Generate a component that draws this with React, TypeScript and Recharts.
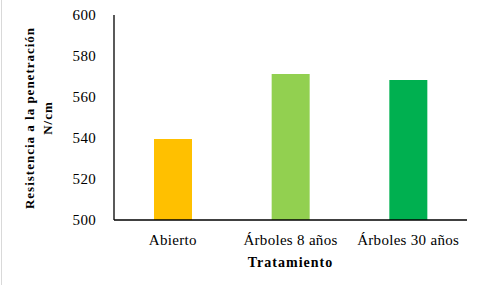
import { BarChart, Bar, XAxis, YAxis, Cell } from "recharts";

const categories = ["Abierto", "Árboles 8 años", "Árboles 30 años"];
const values = [539.5, 571.2, 568.3];
const colors = ["#FFC000", "#92D050", "#00B050"];
const yTicks = [500, 520, 540, 560, 580, 600];

const data = categories.map((c, i) => ({ name: c, value: values[i] }));

const FONT = "Liberation Serif, Times New Roman, serif";

// Two-line rotated y-axis title
function YTitle() {
  const cx = 38;
  const cy = 118;
  return (
    <text
      transform={`translate(${cx}, ${cy}) rotate(-90)`}
      textAnchor="middle"
      style={{ fontFamily: FONT, fontWeight: "bold", fontSize: 13, letterSpacing: 1 }}
      fill="#000"
    >
      <tspan x={0} dy={-4}>Resistencia a la penetración</tspan>
      <tspan x={0} dy={18}>N/cm</tspan>
    </text>
  );
}

const tickStyle = { fontFamily: FONT, letterSpacing: 0.3 };

export default function App() {
  return (
    <div
      style={{
        position: "absolute",
        left: 0,
        top: 0,
        width: 478,
        height: 286,
        background: "#fff",
        fontFamily: FONT,
      }}
    >
      <div style={{ position: "absolute", left: 1, top: 0, width: 1, height: 285, background: "#d9d9d9" }} />
      <BarChart
        width={478}
        height={286}
        data={data}
        style={{ fontFamily: FONT }}
        margin={{ top: 15, right: 11, bottom: 36, left: 54 }}
      >
        <XAxis
          dataKey="name"
          axisLine={{ stroke: "#000", strokeWidth: 1.3 }}
          tickLine={false}
          tick={{ fill: "#000", fontSize: 15, style: tickStyle }}
          tickMargin={8}
          label={{
            value: "Tratamiento",
            position: "insideBottom",
            offset: -17,
            style: { fontFamily: FONT, fontWeight: "bold", fontSize: 14, fill: "#000", letterSpacing: 1 },
          }}
        />
        <YAxis
          width={60}
          domain={[500, 600]}
          ticks={yTicks}
          axisLine={{ stroke: "#000", strokeWidth: 1.3 }}
          tickLine={false}
          tickMargin={12}
          tick={{ fill: "#000", fontSize: 15, style: tickStyle }}
          allowDataOverflow
          label={{ content: () => <YTitle /> }}
        />
        <Bar dataKey="value" barSize={38} isAnimationActive={false}>
          {data.map((d, i) => (
            <Cell key={d.name} fill={colors[i]} />
          ))}
        </Bar>
      </BarChart>
    </div>
  );
}
